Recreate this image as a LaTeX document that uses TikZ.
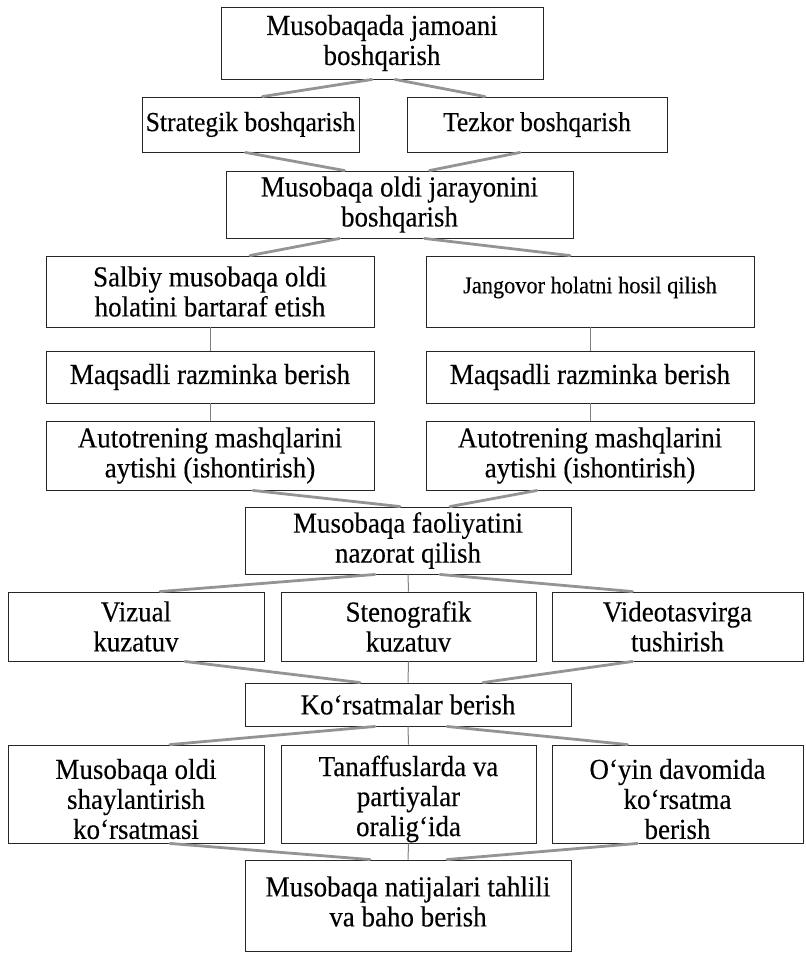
\documentclass[tikz,border=0pt]{standalone}
\usepackage{fontspec}
\setmainfont{Liberation Serif}[FakeStretch=0.93,FakeBold=0.25]
\begin{document}
\begin{tikzpicture}[x=1pt,y=-1pt,
  box/.style={draw=black!85,line width=0.9pt,inner sep=0pt,align=center,
    font=\fontsize{29}{30}\selectfont},
  txt/.style={inner sep=0pt,align=center,font=\fontsize{29}{30}\selectfont},
  conn/.style={draw=black!42,line width=2.8pt,line cap=round},
  vconn/.style={draw=black!50,line width=1pt}]
\useasboundingbox[fill=white] (0,0) rectangle (806,954);
% row 1
\node[box,minimum width=322,minimum height=72] (n1) at (382,43) {Musobaqada jamoani\\boshqarish};
% row 2
\node[box,minimum width=217,minimum height=55,font=\fontsize{27.5}{30}\selectfont] (st) at (250.5,124.5) {Strategik boshqarish};
\node[box,minimum width=260,minimum height=55,font=\fontsize{27.5}{30}\selectfont] (tz) at (537,124.5) {Tezkor boshqarish};
% row 3
\node[box,minimum width=347,minimum height=67] (mo) at (399.5,204.5) {Musobaqa oldi jarayonini\\boshqarish};
% row 4
\node[box,minimum width=328,minimum height=71] (sa) at (210,291.5) {Salbiy musobaqa oldi\\holatini bartaraf etish};
\node[box,minimum width=328,minimum height=71] (jg) at (590,291.5) {};
\node[txt,font=\fontsize{24}{24}\selectfont] (jgt) at ([yshift=4]jg.center) {Jangovor holatni hosil qilish};
% row 5
\node[box,minimum width=328,minimum height=52] (mq1) at (210,377) {Maqsadli razminka berish};
\node[box,minimum width=328,minimum height=52] (mq2) at (590,377) {Maqsadli razminka berish};
% row 6
\node[box,minimum width=328,minimum height=69] (at1) at (210,455.5) {Autotrening mashqlarini\\aytishi (ishontirish)};
\node[box,minimum width=328,minimum height=69] (at2) at (590,455.5) {Autotrening mashqlarini\\aytishi (ishontirish)};
% row 7
\node[box,minimum width=326,minimum height=67] (fa) at (408,540.5) {Musobaqa faoliyatini\\nazorat qilish};
% row 8
\node[box,minimum width=256,minimum height=69] (vz) at (136,626.5) {Vizual\\kuzatuv};
\node[box,minimum width=255,minimum height=69] (sg) at (408.5,626.5) {Stenografik\\kuzatuv};
\node[box,minimum width=251,minimum height=69] (vd) at (677.5,626.5) {Videotasvirga\\tushirish};
% row 9
\node[box,minimum width=326,minimum height=43] (ko) at (408,704.5) {Ko‘rsatmalar berish};
% row 10
\node[box,minimum width=256,minimum height=98] (ms) at (136,794) {};
\node[txt] (mst) at ([yshift=-5]ms.center) {Musobaqa oldi\\shaylantirish\\ko‘rsatmasi};
\node[box,minimum width=255,minimum height=98] (tn) at (408.5,794) {};
\node[txt] (tnt) at ([yshift=-5]tn.center) {Tanaffuslarda va\\partiyalar\\oralig‘ida};
\node[box,minimum width=251,minimum height=98] (oy) at (677.5,794) {};
\node[txt] (oyt) at ([yshift=-5]oy.center) {O‘yin davomida\\ko‘rsatma\\berish};
% row 11
\node[box,minimum width=326,minimum height=91] (nt) at (408,905.5) {};
\node[txt] (ntt) at ([yshift=4]nt.center) {Musobaqa natijalari tahlili\\va baho berish};
% connectors
\draw[conn] ([xshift=-10]n1.south) -- ([xshift=12]st.north);
\draw[conn] ([xshift=13]n1.south) -- ([xshift=-52]tz.north);
\draw[conn] ([xshift=-5]st.south) -- ([xshift=-55]mo.north);
\draw[conn] ([xshift=-17]tz.south) -- ([xshift=30]mo.north);
\draw[conn] ([xshift=-60]mo.south) -- ([xshift=40]sa.north);
\draw[conn] ([xshift=25]mo.south) -- ([xshift=-20]jg.north);
\draw[vconn] (sa.south) -- (mq1.north);
\draw[vconn] (jg.south) -- (mq2.north);
\draw[vconn] (mq1.south) -- (at1.north);
\draw[vconn] (mq2.south) -- (at2.north);
\draw[conn] ([xshift=43]at1.south) -- ([xshift=-8]fa.north);
\draw[conn] ([xshift=-53]at2.south) -- ([xshift=42]fa.north);
\draw[conn] ([xshift=-33]fa.south) -- ([xshift=24]vz.north);
\draw[conn] ([xshift=32]fa.south) -- ([xshift=-45]vd.north);
\draw[vconn] (fa.south) -- (sg.north);
\draw[conn] ([xshift=49]vz.south) -- ([xshift=-48]ko.north);
\draw[conn] ([xshift=-45]vd.south) -- ([xshift=75]ko.north);
\draw[vconn] (sg.south) -- (ko.north);
\draw[conn] ([xshift=-33]ko.south) -- ([xshift=34]ms.north);
\draw[conn] ([xshift=39]ko.south) -- ([xshift=-50]oy.north);
\draw[vconn] (ko.south) -- (tn.north);
\draw[conn] ([xshift=34]ms.south) -- ([xshift=-38]nt.north);
\draw[conn] ([xshift=-40]oy.south) -- ([xshift=39]nt.north);
\draw[vconn] (tn.south) -- (nt.north);
\end{tikzpicture}
\end{document}
